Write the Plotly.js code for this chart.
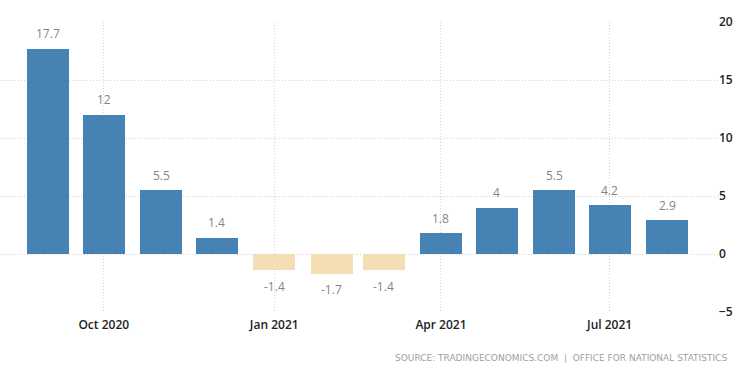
<!DOCTYPE html>
<html>
<head>
<meta charset="utf-8">
<script src="https://cdn.plot.ly/plotly-3.0.1.min.js"></script>
<style>html,body{margin:0;padding:0;background:#fff;}#chart{width:750px;height:375px;}</style>
</head>
<body>
<div id="chart"></div>
<script>
const months = ['2020-09-01','2020-10-01','2020-11-01','2020-12-01','2021-01-01','2021-02-01','2021-03-01','2021-04-01','2021-05-01','2021-06-01','2021-07-01','2021-08-01'];
const values = [17.7, 12, 5.5, 1.4, -1.4, -1.7, -1.4, 1.8, 4, 5.5, 4.2, 2.9];
const labels = ['17.7','12','5.5','1.4','-1.4','-1.7','-1.4','1.8','4','5.5','4.2','2.9'];
const source = 'SOURCE: TRADINGECONOMICS.COM  |  OFFICE FOR NATIONAL STATISTICS';

const DAY = 86400000;
const colors = values.map(v => v >= 0 ? '#4682B4' : '#F5DEB3');

const trace = {
  type: 'bar',
  x: months,
  y: values,
  width: months.map(() => 22.7 * DAY),
  marker: {color: colors, line: {width: 0}},
  hoverinfo: 'x+y'
};

const annotations = months.map((m, i) => ({
  x: m, y: values[i], xref: 'x', yref: 'y',
  text: labels[i], showarrow: false,
  yshift: values[i] >= 0 ? 15 : -16,
  yanchor: 'middle',
  font: {family: 'Open Sans, sans-serif', size: 12, color: '#858585'}
}));
annotations.push({
  xref: 'paper', yref: 'paper', x: 1.0153, y: -0.157, xanchor: 'right', yanchor: 'middle',
  text: source, showarrow: false,
  font: {family: 'DejaVu Sans, sans-serif', size: 9, color: '#a0a0a0'}
});

const layout = {
  width: 750, height: 375,
  margin: {l: 0, r: 32, t: 21.5, b: 62.5},
  paper_bgcolor: '#fff', plot_bgcolor: '#fff',
  showlegend: false,
  bargap: 0,
  xaxis: {
    type: 'date',
    range: ['2020-08-06', '2021-08-28 12:00'],
    tick0: '2020-10-01', dtick: 'M3', tickformat: '%b %Y',
    showgrid: true, gridcolor: '#d4d4d4', griddash: '1px,2px', gridwidth: 1,
    zeroline: false, showline: false, ticks: '',
    ticklabelstandoff: 4,
    tickfont: {family: 'Open Sans, sans-serif', size: 12, color: '#222', weight: 600}
  },
  yaxis: {
    side: 'right',
    range: [-5, 20], dtick: 5, tick0: 0,
    showgrid: true, gridcolor: '#d4d4d4', griddash: '1px,2px', gridwidth: 1,
    zeroline: false, showline: false, ticks: '',
    tickfont: {family: 'Open Sans, sans-serif', size: 12, color: '#222', weight: 600}
  },
  annotations: annotations
};

Plotly.newPlot('chart', [trace], layout, {displayModeBar: false, staticPlot: true});
</script>
</body>
</html>
